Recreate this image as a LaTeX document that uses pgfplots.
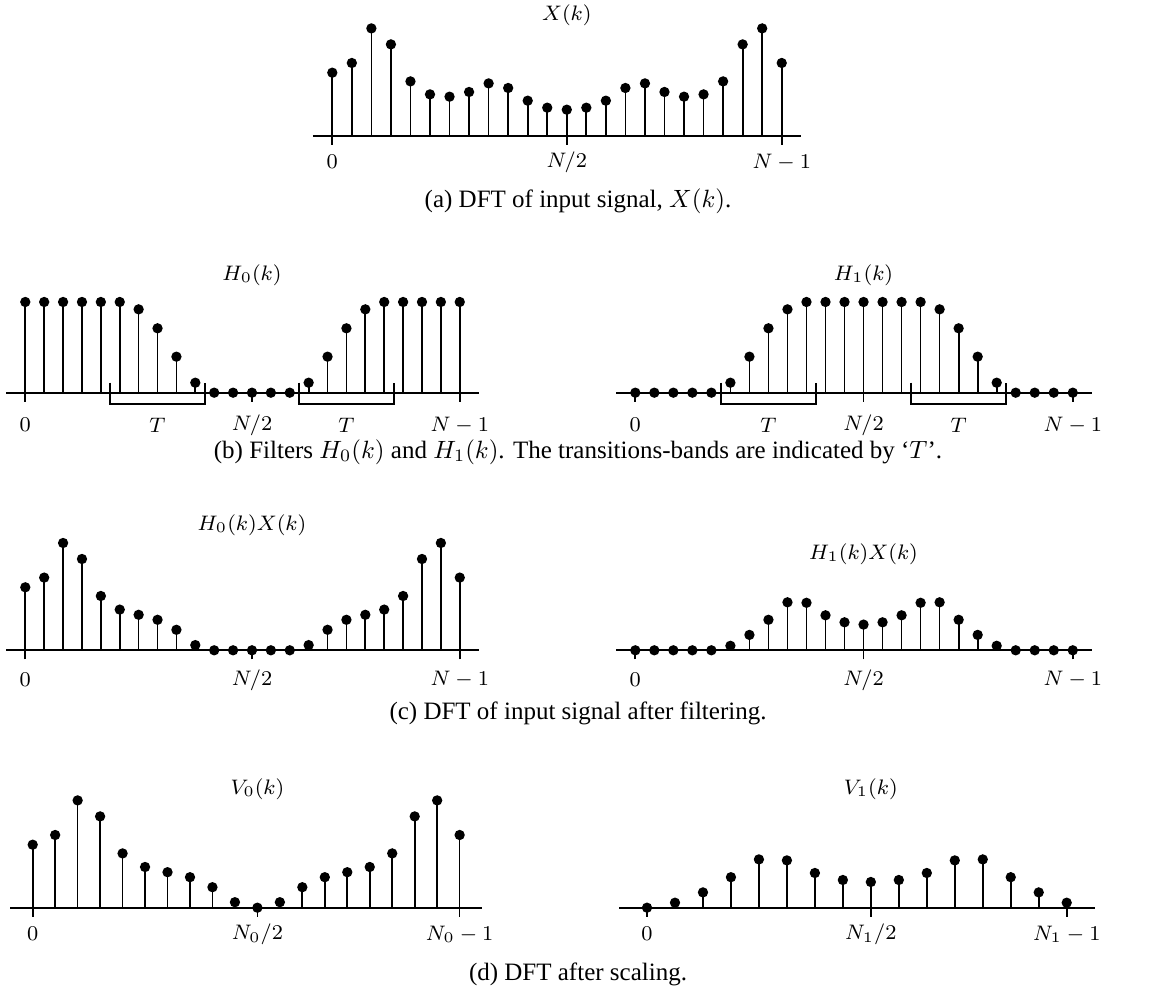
\RequirePackage{fix-cm}
\documentclass[border=0pt]{standalone}
\usepackage[no-math]{fontspec}
\setmainfont{Liberation Serif}
\usepackage{pgfplots}
\pgfplotsset{compat=1.18}
\newcommand\lab{\fontsize{8.4}{10}\selectfont}
\pgfplotsset{
  stem/.style={ycomb, black, line width=0.68pt, mark=*, mark size=1.7pt, mark options={solid}},
  dftaxis/.style={
    anchor=origin, clip=false,
    axis x line=bottom, axis y line=none,
    x axis line style={-, line width=0.85pt},
    tick align=outside, major tick length=3.6pt,
    tick style={line width=0.68pt, black},
    xticklabel style={anchor=center, font=\lab, yshift=-7pt},
    ymin=0,
  },
  brk/.style={black, line width=0.7pt, mark=none, sharp plot},
}
\begin{document}
\begin{tikzpicture}
\useasboundingbox (0,0) rectangle (462.4pt,396pt);

% ---------------- (a) X(k)
\begin{axis}[dftaxis, at={(132.92pt,341.72pt)}, x=7.816pt, y=0.4pt,
  xmin=-1, xmax=24, ymax=110,
  xtick={0,12,23}, xticklabels={$0$,$N/2$,$N-1$}]
\addplot[stem] coordinates {
 (0,63.0) (1,72.7) (2,107.3) (3,91.3) (4,54.3) (5,41.3) (6,39.0) (7,43.7)
 (8,52.3) (9,47.7) (10,35.0) (11,28.0) (12,26.0) (13,28.0) (14,35.0) (15,47.7)
 (16,52.3) (17,43.7) (18,39.0) (19,41.3) (20,54.3) (21,91.3) (22,107.3) (23,72.7)};
\node[font=\lab] at (axis cs:12,120.7) {$X(k)$};
\end{axis}

% ---------------- (b) H0(k)
\begin{axis}[dftaxis, at={(10.12pt,238.92pt)}, x=7.556pt, y=36.28pt,
  xmin=-1, xmax=24, ymax=1.05,
  xtick={0,12,23}, xticklabels={$0$,$N/2$,$N-1$},
  xticklabel style={yshift=-2.4pt}]
\addplot[stem] coordinates {
 (0,1) (1,1) (2,1) (3,1) (4,1) (5,1) (6,0.919) (7,0.71)
 (8,0.397) (9,0.11) (10,0) (11,0) (12,0) (13,0) (14,0) (15,0.11)
 (16,0.397) (17,0.71) (18,0.919) (19,1) (20,1) (21,1) (22,1) (23,1)};
\addplot[brk] coordinates {(4.5,0.11) (4.5,-0.128) (9.5,-0.128) (9.5,0.11)};
\addplot[brk] coordinates {(14.5,0.11) (14.5,-0.128) (19.5,-0.128) (19.5,0.11)};
\node[font=\lab] at (axis cs:7,-0.356) {$T$};
\node[font=\lab] at (axis cs:17,-0.356) {$T$};
\node[font=\lab] at (axis cs:12,1.298) {$H_0(k)$};
\end{axis}

% ---------------- (b) H1(k)
\begin{axis}[dftaxis, at={(254.12pt,238.92pt)}, x=7.608pt, y=36.28pt,
  xmin=-1, xmax=24, ymax=1.05,
  xtick={0,12,23}, xticklabels={$0$,$N/2$,$N-1$},
  xticklabel style={yshift=-2.4pt}]
\addplot[stem] coordinates {
 (0,0) (1,0) (2,0) (3,0) (4,0) (5,0.11) (6,0.397) (7,0.71)
 (8,0.919) (9,1) (10,1) (11,1) (12,1) (13,1) (14,1) (15,1)
 (16,0.919) (17,0.71) (18,0.397) (19,0.11) (20,0) (21,0) (22,0) (23,0)};
\addplot[brk] coordinates {(4.5,0.11) (4.5,-0.128) (9.5,-0.128) (9.5,0.11)};
\addplot[brk] coordinates {(14.5,0.11) (14.5,-0.128) (19.5,-0.128) (19.5,0.11)};
\node[font=\lab] at (axis cs:7,-0.356) {$T$};
\node[font=\lab] at (axis cs:17,-0.356) {$T$};
\node[font=\lab] at (axis cs:12,1.298) {$H_1(k)$};
\end{axis}

% ---------------- (c) H0(k)X(k)
\begin{axis}[dftaxis, at={(10.12pt,135.88pt)}, x=7.556pt, y=0.4pt,
  xmin=-1, xmax=24, ymax=110,
  xtick={0,12,23}, xticklabels={$0$,$N/2$,$N-1$},
  xticklabel style={yshift=-1.2pt}]
\addplot[stem] coordinates {
 (0,63.0) (1,72.7) (2,107.3) (3,91.3) (4,54.3) (5,40.7) (6,35.5) (7,30.5)
 (8,20.5) (9,5.2) (10,0) (11,0) (12,0) (13,0) (14,0) (15,5.2)
 (16,20.5) (17,30.5) (18,35.5) (19,40.7) (20,54.3) (21,91.3) (22,107.3) (23,72.7)};
\node[font=\lab] at (axis cs:12,125.3) {$H_0(k)X(k)$};
\end{axis}

% ---------------- (c) H1(k)X(k)
\begin{axis}[dftaxis, at={(254.12pt,135.88pt)}, x=7.608pt, y=0.4pt,
  xmin=-1, xmax=24, ymax=110,
  xtick={0,12,23}, xticklabels={$0$,$N/2$,$N-1$},
  xticklabel style={yshift=-1.2pt}]
\addplot[stem] coordinates {
 (0,0) (1,0) (2,0) (3,0) (4,0) (5,4.5) (6,15.4) (7,30.5)
 (8,48.0) (9,47.5) (10,35.0) (11,28.0) (12,25.7) (13,28.0) (14,35.0) (15,47.5)
 (16,48.0) (17,30.5) (18,15.4) (19,4.5) (20,0) (21,0) (22,0) (23,0)};
\node[font=\lab] at (axis cs:12,96.3) {$H_1(k)X(k)$};
\end{axis}

% ---------------- (d) V0(k)
\begin{axis}[dftaxis, at={(13.08pt,32.92pt)}, x=8.988pt, y=0.4pt,
  xmin=-1, xmax=20, ymax=110,
  xtick={0,10,19}, xticklabels={$0$,$N_0/2$,$N_0-1$}]
\addplot[stem] coordinates {
 (0,63.0) (1,72.7) (2,107.3) (3,91.3) (4,54.3) (5,40.7) (6,35.5) (7,30.5)
 (8,20.5) (9,5.5) (10,0) (11,5.5) (12,20.5) (13,30.5) (14,35.5) (15,40.7)
 (16,54.3) (17,91.3) (18,107.3) (19,72.7)};
\node[font=\lab] at (axis cs:10,118.7) {$V_0(k)$};
\end{axis}

% ---------------- (d) V1(k)
\begin{axis}[dftaxis, at={(258.8pt,32.92pt)}, x=11.192pt, y=0.4pt,
  xmin=-1, xmax=16, ymax=110,
  xtick={0,8,15}, xticklabels={$0$,$N_1/2$,$N_1-1$}]
\addplot[stem] coordinates {
 (0,0) (1,5.0) (2,15.3) (3,30.5) (4,48.3) (5,47.3) (6,34.7) (7,27.7)
 (8,25.7) (9,27.7) (10,34.7) (11,47.3) (12,48.3) (13,30.5) (14,15.3) (15,5.0)};
\node[font=\lab] at (axis cs:8,118.7) {$V_1(k)$};
\end{axis}

% ---------------- captions
\node[inner sep=0pt, font=\fontsize{10}{12}\selectfont] at (231.2pt,315.6pt) {(a) DFT of input signal, $X(k)$.};
\node[inner sep=0pt, font=\fontsize{10}{12}\selectfont] at (231.2pt,215.2pt) {(b) Filters $H_0(k)$ and $H_1(k)$. The transitions-bands are indicated by `$T$'.};
\node[inner sep=0pt, font=\fontsize{10}{12}\selectfont] at (231.2pt,110.8pt) {(c) DFT of input signal after filtering.};
\node[inner sep=0pt, font=\fontsize{10}{12}\selectfont] at (231.2pt,6.4pt) {(d) DFT after scaling.};
\end{tikzpicture}
\end{document}
